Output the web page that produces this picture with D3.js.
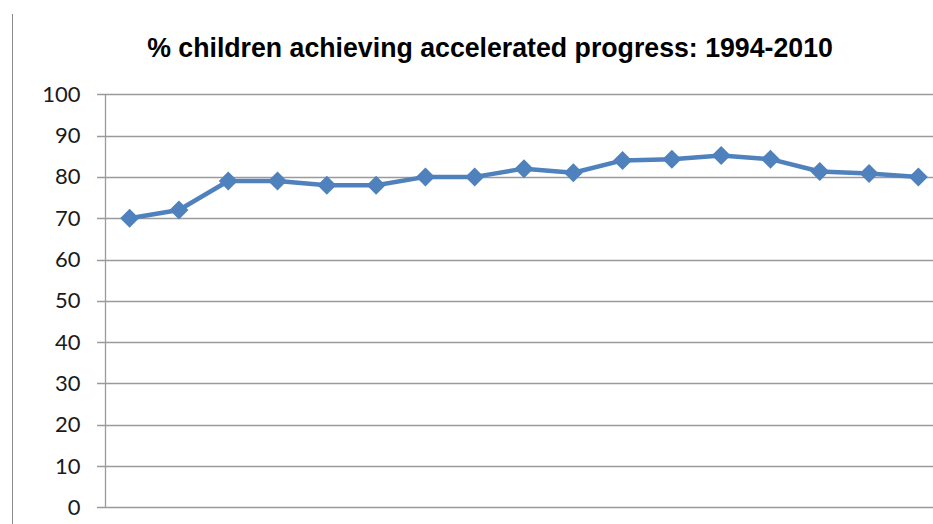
<!DOCTYPE html>
<html>
<head>
<meta charset="utf-8">
<script src="https://cdn.jsdelivr.net/npm/d3@7"></script>
<style>
  html, body { margin: 0; padding: 0; background: #fff; overflow: hidden; }
  svg { display: block; }
</style>
</head>
<body>
<svg id="chart" width="933" height="524"></svg>
<script>
// Share of children achieving accelerated progress, one value per year
const years = ["1994","1995","1996","1997","1998","1999","2000","2001","2002",
               "2003","2004","2005","2006","2007","2008","2009","2010"];
const percentages = [70, 72, 79, 79, 78, 78, 80, 80, 82, 81, 84, 84.3, 85.2, 84.3, 81.3, 80.8, 80];
const yTicks = [0, 10, 20, 30, 40, 50, 60, 70, 80, 90, 100];
const titleText = "% children achieving accelerated progress: 1994-2010";

const svg = d3.select("#chart");
const W = 933, H = 524;
const plot = { left: 105, right: 943, top: 94.3, bottom: 507.3 };

const x = d3.scaleBand().domain(years).range([plot.left, plot.right]);
const y = d3.scaleLinear().domain([0, 100]).range([plot.bottom, plot.top]);

// outer frame edge on the left
svg.append("line")
  .attr("x1", 12.5).attr("x2", 12.5).attr("y1", 14).attr("y2", H)
  .attr("stroke", "#8c8c8c").attr("stroke-width", 1);

// horizontal gridlines
svg.append("g").selectAll("line").data(yTicks).join("line")
  .attr("x1", plot.left - 8).attr("x2", W)
  .attr("y1", d => Math.round(y(d)) + 0.5).attr("y2", d => Math.round(y(d)) + 0.5)
  .attr("stroke", "#9a9a9a").attr("stroke-width", 1.3);

// value axis
const yAxis = d3.axisLeft(y).tickValues(yTicks).tickSize(0).tickPadding(25);
const gy = svg.append("g").attr("transform", `translate(${plot.left + 0.5},0)`).call(yAxis);
gy.select(".domain").remove();
gy.selectAll("text")
  .attr("font-family", "Lato, 'Open Sans', sans-serif")
  .attr("font-size", 22)
  .attr("fill", "#1a1a1a");
svg.append("line")
  .attr("x1", plot.left + 0.5).attr("x2", plot.left + 0.5)
  .attr("y1", y(100)).attr("y2", y(0))
  .attr("stroke", "#9a9a9a").attr("stroke-width", 1.3);

// title
const title = svg.append("text")
  .attr("x", 490).attr("y", 56.5)
  .attr("text-anchor", "middle")
  .attr("font-family", "'Liberation Sans', Arial, sans-serif")
  .attr("font-weight", "bold")
  .attr("font-size", 26)
  .attr("fill", "#000")
  .text(titleText);
const tw = title.node().getComputedTextLength();
title.attr("font-size", 26 * 686 / tw);

// series line and diamond markers
const cx = d => x(d) + x.bandwidth() / 2;
const line = d3.line().x((d, i) => cx(years[i])).y(d => y(d));
svg.append("path")
  .datum(percentages)
  .attr("d", line)
  .attr("fill", "none")
  .attr("stroke", "#4f81bd")
  .attr("stroke-width", 4.5)
  .attr("stroke-linejoin", "round");

const r = 9.5;
svg.append("g").selectAll("path").data(percentages).join("path")
  .attr("transform", (d, i) => `translate(${cx(years[i])},${y(d)})`)
  .attr("d", `M0,${-r}L${r},0L0,${r}L${-r},0Z`)
  .attr("fill", "#4f81bd");
</script>
</body>
</html>
